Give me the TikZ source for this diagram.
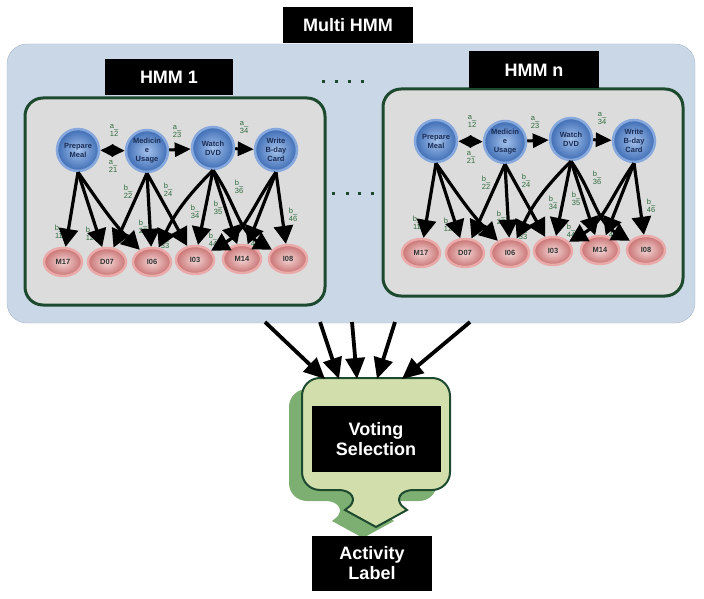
\documentclass[tikz,border=0pt]{standalone}
\usepackage{fontspec}
\setmainfont{Liberation Sans}
\usetikzlibrary{shapes.geometric,arrows.meta}
\definecolor{panelblue}{HTML}{CAD7E6}
\definecolor{paneledge}{HTML}{A8B8CA}
\definecolor{boxgray}{HTML}{DCDCDC}
\definecolor{boxgreen}{HTML}{1D4A2E}
\definecolor{labgreen}{HTML}{2F6B3D}
\definecolor{statein}{HTML}{A4C2EC}
\definecolor{stateout}{HTML}{3E6DB5}
\definecolor{staterim}{HTML}{86A8DC}
\definecolor{statetext}{HTML}{1B2D55}
\definecolor{obsin}{HTML}{F4D6D6}
\definecolor{obsout}{HTML}{C97272}
\definecolor{obsrim}{HTML}{EBAAAA}
\definecolor{votefill}{HTML}{D2DEAB}
\definecolor{voteshade}{HTML}{7DAE72}
\begin{document}
\begin{tikzpicture}[x=1pt,y=-1pt,
	title/.style={fill=black, text=white, font=\fontsize{18}{20}\selectfont\bfseries, align=center, inner sep=0},
	state/.style={circle, minimum size=42pt, inner sep=0, shade, inner color=statein, outer color=stateout,
		draw=staterim, line width=2.5pt, align=center, text=statetext, font=\fontsize{7.5}{9}\selectfont\bfseries},
	obs/.style={ellipse, minimum width=38pt, minimum height=28pt, inner sep=0, shade, inner color=obsin,
		outer color=obsout, draw=obsrim, line width=2.5pt, text=black!80, font=\fontsize{7.5}{9}\selectfont\bfseries},
	prob/.style={align=center, inner sep=0, text=labgreen, font=\fontsize{7.5}{8}\selectfont},
	trans/.style={line width=3pt, -{Triangle[length=16pt,width=14pt]}},
	both/.style={line width=3pt, {Triangle[length=13pt,width=12pt]}-{Triangle[length=13pt,width=12pt]}},
	emit/.style={line width=3.2pt, -{Triangle[length=18pt,width=19pt]}},
	vote/.style={line width=3.8pt, -{Triangle[length=21pt,width=19pt]}},
	dot/.style={fill=boxgreen, minimum size=3pt, inner sep=0},
	shadowfill/.style={fill=voteshade},
	calloutfill/.style={fill=votefill, draw=boxgreen, line width=2pt},
]
\useasboundingbox (0,0) rectangle (704,599);

\draw[fill=panelblue, draw=paneledge, rounded corners=20pt] (7,44) rectangle (695,323);
\node[title, minimum width=130pt, minimum height=36pt] (multi) at (348,25) {Multi HMM};

\foreach \h/\dx/\dy in {1/0/0, n/358/-9} {
	\begin{scope}[shift={(\dx,\dy)}]
		\draw[line width=3pt, draw=boxgreen, fill=boxgray, rounded corners=18pt] (25,98) rectangle (325,305);
		\node[state] (pm\h) at (78,150) {Prepare\\Meal};
		\node[state] (mu\h) at (147,151) {Medicin\\e\\Usage};
		\node[state] (wd\h) at (213,148) {Watch\\DVD};
		\node[state] (wc\h) at (276,150) {Write\\B-day\\Card};
		\node[obs] (m17\h) at (63,262) {M17};
		\node[obs] (d07\h) at (107,262) {D07};
		\node[obs] (i06\h) at (152,262) {I06};
		\node[obs] (i03\h) at (195,260) {I03};
		\node[obs] (m14\h) at (242,259) {M14};
		\node[obs] (i08\h) at (288,259) {I08};
		\node[prob] (a12\h) at (114,130) {a\_\\12};
		\node[prob] (a21\h) at (113,166) {a\_\\21};
		\node[prob] (a23\h) at (177,132) {a\_\\23};
		\node[prob] (a34\h) at (244,128) {a\_\\34};
		\node[prob] (b11\h) at (59,232) {b\_\\11};
		\node[prob] (b12\h) at (90,234) {b\_\\12};
		\node[prob] (b13\h) at (123,237) {b\_\\13};
		\node[prob] (b22\h) at (128,192) {b\_\\22};
		\node[prob] (b23\h) at (143,227) {b\_\\23};
		\node[prob] (b24\h) at (168,190) {b\_\\24};
		\node[prob] (b33\h) at (165,242) {b\_\\33};
		\node[prob] (b34\h) at (195,212) {b\_\\34};
		\node[prob] (b35\h) at (218,208) {b\_\\35};
		\node[prob] (b36\h) at (239,187) {b\_\\36};
		\node[prob] (b44\h) at (213,240) {b\_\\44};
		\node[prob] (b45\h) at (255,240) {b\_\\45};
		\node[prob] (b46\h) at (293,215) {b\_\\46};
		\draw[both] (pm\h) -- (mu\h);
		\draw[trans] (mu\h) -- (wd\h);
		\draw[trans] (wd\h) -- (wc\h);
		\draw[emit] (pm\h.south) -- (m17\h);
		\draw[emit] (pm\h.south) -- (d07\h);
		\draw[emit] (pm\h.south) to[out=-55,in=135] (i06\h);
		\draw[emit] (mu\h.south) -- (d07\h);
		\draw[emit] (mu\h.south) -- (i06\h);
		\draw[emit] (mu\h.south) -- (i03\h);
		\draw[emit] (wd\h.south) to[out=-135,in=65] (i06\h);
		\draw[emit] (wd\h.south) -- (i03\h);
		\draw[emit] (wd\h.south) -- (m14\h);
		\draw[emit] (wd\h.south) to[out=-55,in=150] (i08\h);
		\draw[emit] (wc\h.south) to[out=-125,in=30] (i03\h);
		\draw[emit] (wc\h.south) -- (m14\h);
		\draw[emit] (wc\h.south) -- (i08\h);
	\end{scope}
}

\node[title, minimum width=128pt, minimum height=36pt] (hmm1) at (169,77) {HMM 1};
\node[title, minimum width=130pt, minimum height=37pt] (hmmn) at (534,70) {HMM n};
\foreach \x in {323,336,349,362} \node[dot] (top\x) at (\x,82) {};
\foreach \x in {333,347,359,372} \node[dot] (mid\x) at (\x,193) {};

\foreach \sx/\sy/\st in {-13/11/shadowfill, 0/0/calloutfill}
	\path[\st, shift={(\sx,\sy)}] (320,378) -- (432,378) .. controls (442,378) and (450,386) .. (450,396)
		-- (450,472) .. controls (450,482) and (442,490) .. (432,490) -- (414,490)
		.. controls (399,490) and (396,500) .. (402,506) -- (407,510) -- (376,527) -- (345,510)
		-- (350,506) .. controls (356,500) and (353,490) .. (338,490) -- (320,490)
		.. controls (310,490) and (302,482) .. (302,472) -- (302,396) .. controls (302,386) and (310,378) .. (320,378)
		-- cycle;

\node[title, minimum width=129pt, minimum height=66pt] (voting) at (376,439) {Voting\\Selection};
\node[title, minimum width=120pt, minimum height=55pt] (activity) at (372,563) {Activity\\Label};

\coordinate (s1) at (265,322);
\coordinate (s2) at (320,322);
\coordinate (s3) at (352,322);
\coordinate (s4) at (395,322);
\coordinate (s5) at (470,322);
\coordinate (e1) at (325,379);
\coordinate (e2) at (339,379);
\coordinate (e3) at (357,379);
\coordinate (e4) at (377,379);
\coordinate (e5) at (402,379);
\foreach \i in {1,...,5} \draw[vote] (s\i) -- (e\i);
\end{tikzpicture}
\end{document}
